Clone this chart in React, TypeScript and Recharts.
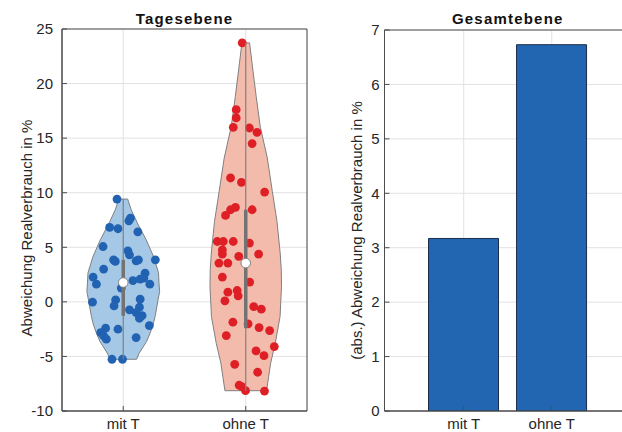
import {
  Area,
  Bar,
  CartesianGrid,
  ComposedChart,
  Label,
  ReferenceArea,
  Scatter,
  XAxis,
  YAxis,
} from 'recharts';

const CATEGORIES = ['mit T', 'ohne T'];

// Tagesebene: Einzelwerte in % und seitliche Streuung (in Achseneinheiten)
const MIT_T_VALUES = [
  9.42, 7.68, 7.43, 6.82, 6.7, 6.42, 5.07, 4.68, 4.31, 3.85, 3.7, 3.76, 3.85, 3.85, 3.0, 2.27,
  1.62, 1.95, 2.08, 2.63, 2.17, 1.62, 1.26, -0.03, 0.18, -0.37, 0.25, -0.73, -0.49, -0.98, -1.26,
  -1.5, -2.17, -2.41, -2.5, -2.81, -3.12, -3.42, -3.27, -5.26, -5.26,
];
const MIT_T_JITTER = [
  -0.051, 0.059, 0.046, -0.111, -0.043, 0.119, -0.165, 0.038, 0.051, -0.079, -0.065, 0.105, 0.124,
  0.262, -0.16, -0.246, -0.219, 0.079, 0.138, 0.178, 0.168, 0.217, -0.016, -0.251, -0.062, -0.075,
  0.138, 0.051, 0.132, 0.105, 0.154, 0.132, 0.213, -0.144, -0.043, -0.184, -0.16, -0.138, 0.105,
  -0.092, -0.006,
];
const OHNE_T_VALUES = [
  23.73, 17.61, 16.85, 15.99, 15.93, 15.53, 14.5, 11.35, 10.95, 10.06, 8.65, 8.44, 7.92, 8.44, 5.53,
  5.53, 5.53, 5.39, 4.77, 4.38, 4.38, 4.16, 3.55, 3.55, 2.27, 1.81, 0.89, 1.04, 0.55, 0.09, -0.43,
  -0.67, -1.86, -2.02, -2.36, -2.63, -3.09, -4.1, -4.5, -4.93, -5.72, -6.45, -7.64, -7.77, -8.14,
  -8.17,
];
const OHNE_T_JITTER = [
  -0.029, -0.078, -0.078, -0.102, 0.03, 0.092, 0.052, -0.124, -0.035, 0.154, -0.084, -0.124, -0.165,
  0.052, -0.232, -0.183, -0.102, 0.03, -0.191, -0.191, 0.105, -0.057, -0.219, -0.146, -0.191, 0.032,
  -0.146, -0.07, -0.062, -0.17, 0.065, 0.127, -0.105, 0.019, 0.109, 0.195, -0.159, 0.233, 0.084,
  0.149, -0.09, 0.097, -0.054, -0.032, -0.002, 0.153,
];

// Violinen-Umriss: Stützstellen (Wert) und halbe Breite
const MIT_T_PROFILE_Y = [9.42, 8.44, 7.25, 5.69, 4.16, 2.66, 1.72, 0.94, 0.18, -1.35, -2.11, -2.87, -3.64, -4.7, -5.26];
const MIT_T_PROFILE_W = [0.036, 0.065, 0.114, 0.187, 0.247, 0.288, 0.292, 0.297, 0.284, 0.26, 0.243, 0.219, 0.19, 0.13, 0.109];
const OHNE_T_PROFILE_Y = [23.73, 21.9, 18.83, 16.08, 13.18, 10.12, 7.37, 4.47, 2.94, 1.4, -1.35, -3.79, -5.62, -6.85, -8.14];
const OHNE_T_PROFILE_W = [0.031, 0.051, 0.085, 0.118, 0.176, 0.217, 0.255, 0.281, 0.29, 0.292, 0.28, 0.241, 0.203, 0.187, 0.17];

const MEDIANS = [1.77, 3.55];
const Q1 = [-1.28, -2.41];
const Q3 = [3.85, 8.44];

// Gesamtebene
const TOTAL_DEVIATION = [3.17, 6.73];

const LEFT_TICKS = [-10, -5, 0, 5, 10, 15, 20, 25];
const RIGHT_TICKS = [0, 1, 2, 3, 4, 5, 6, 7];

const FONT = '"Liberation Sans", Arial, Helvetica, sans-serif';
const TEXT = '#262626';
const AXIS = '#4d4d4d';
const GRID = '#e2e2e2';
const OUTLINE = '#808080';
const BOX = '#737373';

const tickStyle = { fill: TEXT, fontSize: 15, fontFamily: FONT };
const catLabel = (v: number) => CATEGORIES[v - 1] ?? '';

const violin = (pos: number, ys: number[], ws: number[]) =>
  ys.map((y, i) => ({ y, r: [pos - ws[i], pos + ws[i]] }));

const seg = (x1: number, y1: number, x2: number, y2: number) => [
  { x: x1, y: y1 },
  { x: x2, y: y2 },
];

const dots = (pos: number, vals: number[], jit: number[]) =>
  vals.map((y, i) => ({ x: pos + jit[i], y }));

const noShape = () => <g />;
const dotShape = (color: string) => (p: any) => <circle cx={p.cx} cy={p.cy} r={4.4} fill={color} />;
const medianShape = (p: any) => (
  <circle cx={p.cx} cy={p.cy} r={4.8} fill="#ffffff" stroke={OUTLINE} strokeWidth={1} />
);

const groups = [
  {
    pos: 1,
    vals: MIT_T_VALUES,
    jit: MIT_T_JITTER,
    py: MIT_T_PROFILE_Y,
    pw: MIT_T_PROFILE_W,
    fill: '#a4c8e6',
    dot: '#2162b2',
  },
  {
    pos: 2,
    vals: OHNE_T_VALUES,
    jit: OHNE_T_JITTER,
    py: OHNE_T_PROFILE_Y,
    pw: OHNE_T_PROFILE_W,
    fill: '#f3bbab',
    dot: '#de2026',
  },
];

const titleStyle = {
  position: 'absolute' as const,
  top: 11,
  fontFamily: FONT,
  fontWeight: 'bold' as const,
  fontSize: 15,
  lineHeight: '15px',
  letterSpacing: 1.2,
  color: '#111',
  textAlign: 'center' as const,
};

function DailyViolins() {
  return (
    <ComposedChart
      layout="vertical"
      width={310}
      height={432}
      margin={{ top: 29, right: 3, bottom: 0, left: 0 }}
    >
      <CartesianGrid stroke={GRID} />
      <XAxis
        type="number"
        dataKey="x"
        domain={[0.5, 2.5]}
        ticks={[1, 2]}
        interval={0}
        allowDataOverflow
        tickFormatter={catLabel}
        height={21}
        tickSize={-5}
        tickMargin={12}
        stroke={AXIS}
        tick={tickStyle}
      />
      <YAxis
        type="number"
        dataKey="y"
        domain={[-10, 25]}
        ticks={LEFT_TICKS}
        interval={0}
        reversed
        allowDataOverflow
        width={62}
        tickSize={-5}
        tickMargin={14}
        stroke={AXIS}
        tick={tickStyle}
      >
        <Label
          value="Abweichung Realverbrauch in %"
          angle={-90}
          position="center"
          dx={-4}
          dy={8}
          style={{ fill: TEXT, fontSize: 15, fontFamily: FONT }}
        />
      </YAxis>
      {groups.map((g) => (
        <Area
          key={`v${g.pos}`}
          data={violin(g.pos, g.py, g.pw)}
          dataKey="r"
          type="linear"
          fill={g.fill}
          fillOpacity={1}
          stroke={OUTLINE}
          strokeWidth={1}
          dot={false}
          activeDot={false}
          isAnimationActive={false}
        />
      ))}
      {groups.map((g) => (
        <Scatter
          key={`e${g.pos}`}
          data={seg(g.pos - g.pw[0], g.py[0], g.pos + g.pw[0], g.py[0])}
          line={{ stroke: OUTLINE, strokeWidth: 1 }}
          shape={noShape}
          isAnimationActive={false}
        />
      ))}
      {groups.map((g) => (
        <Scatter
          key={`b${g.pos}`}
          data={seg(
            g.pos - g.pw[g.pw.length - 1],
            g.py[g.py.length - 1],
            g.pos + g.pw[g.pw.length - 1],
            g.py[g.py.length - 1]
          )}
          line={{ stroke: OUTLINE, strokeWidth: 1 }}
          shape={noShape}
          isAnimationActive={false}
        />
      ))}
      {groups.map((g) => (
        <Scatter
          key={`d${g.pos}`}
          data={dots(g.pos, g.vals, g.jit)}
          shape={dotShape(g.dot)}
          isAnimationActive={false}
        />
      ))}
      {groups.map((g) => (
        <Scatter
          key={`w${g.pos}`}
          data={seg(g.pos, Math.max(...g.vals), g.pos, Math.min(...g.vals))}
          line={{ stroke: OUTLINE, strokeWidth: 1.2 }}
          shape={noShape}
          isAnimationActive={false}
        />
      ))}
      {groups.map((g, i) => (
        <Scatter
          key={`q${g.pos}`}
          data={seg(g.pos, Q3[i], g.pos, Q1[i])}
          line={{ stroke: BOX, strokeWidth: 3.5 }}
          shape={noShape}
          isAnimationActive={false}
        />
      ))}
      <Scatter
        data={groups.map((g, i) => ({ x: g.pos, y: MEDIANS[i] }))}
        shape={medianShape}
        isAnimationActive={false}
      />
      <ReferenceArea x1={0.5} x2={2.5} y1={-10} y2={25} fill="none" stroke={AXIS} strokeWidth={1} />
    </ComposedChart>
  );
}

function TotalBars() {
  const data = TOTAL_DEVIATION.map((v, i) => ({ x: i + 1, v }));
  return (
    <ComposedChart
      data={data}
      width={324}
      height={432}
      margin={{ top: 30, right: 3, bottom: 0, left: 0 }}
      barCategoryGap="10%"
    >
      <CartesianGrid stroke={GRID} />
      <XAxis
        type="number"
        dataKey="x"
        domain={[0.1, 2.9]}
        ticks={[1, 2]}
        interval={0}
        allowDataOverflow
        tickFormatter={catLabel}
        height={21}
        tickSize={-5}
        tickMargin={12}
        stroke={AXIS}
        tick={tickStyle}
      />
      <YAxis
        type="number"
        domain={[0, 7]}
        ticks={RIGHT_TICKS}
        interval={0}
        allowDataOverflow
        width={74.5}
        tickSize={-5}
        tickMargin={10}
        stroke={AXIS}
        tick={tickStyle}
      >
        <Label
          value="(abs.) Abweichung Realverbrauch in %"
          angle={-90}
          position="center"
          dx={9}
          dy={10}
          style={{ fill: TEXT, fontSize: 15, fontFamily: FONT }}
        />
      </YAxis>
      <Bar dataKey="v" fill="#2265b0" stroke="#1b2c4c" strokeWidth={1} isAnimationActive={false} />
      <ReferenceArea x1={0.1} x2={2.9} y1={0} y2={7} fill="none" stroke={AXIS} strokeWidth={1} />
    </ComposedChart>
  );
}

export default function App() {
  return (
    <div
      style={{
        position: 'absolute',
        left: 0,
        top: 0,
        width: 622,
        height: 432,
        overflow: 'hidden',
        background: '#ffffff',
      }}
    >
      <div style={{ ...titleStyle, left: 62, width: 245 }}>Tagesebene</div>
      <div style={{ ...titleStyle, left: 384.5, width: 246.5 }}>Gesamtebene</div>
      <div style={{ position: 'absolute', left: 0, top: 0 }}>
        <DailyViolins />
      </div>
      <div style={{ position: 'absolute', left: 310, top: 0 }}>
        <TotalBars />
      </div>
    </div>
  );
}
